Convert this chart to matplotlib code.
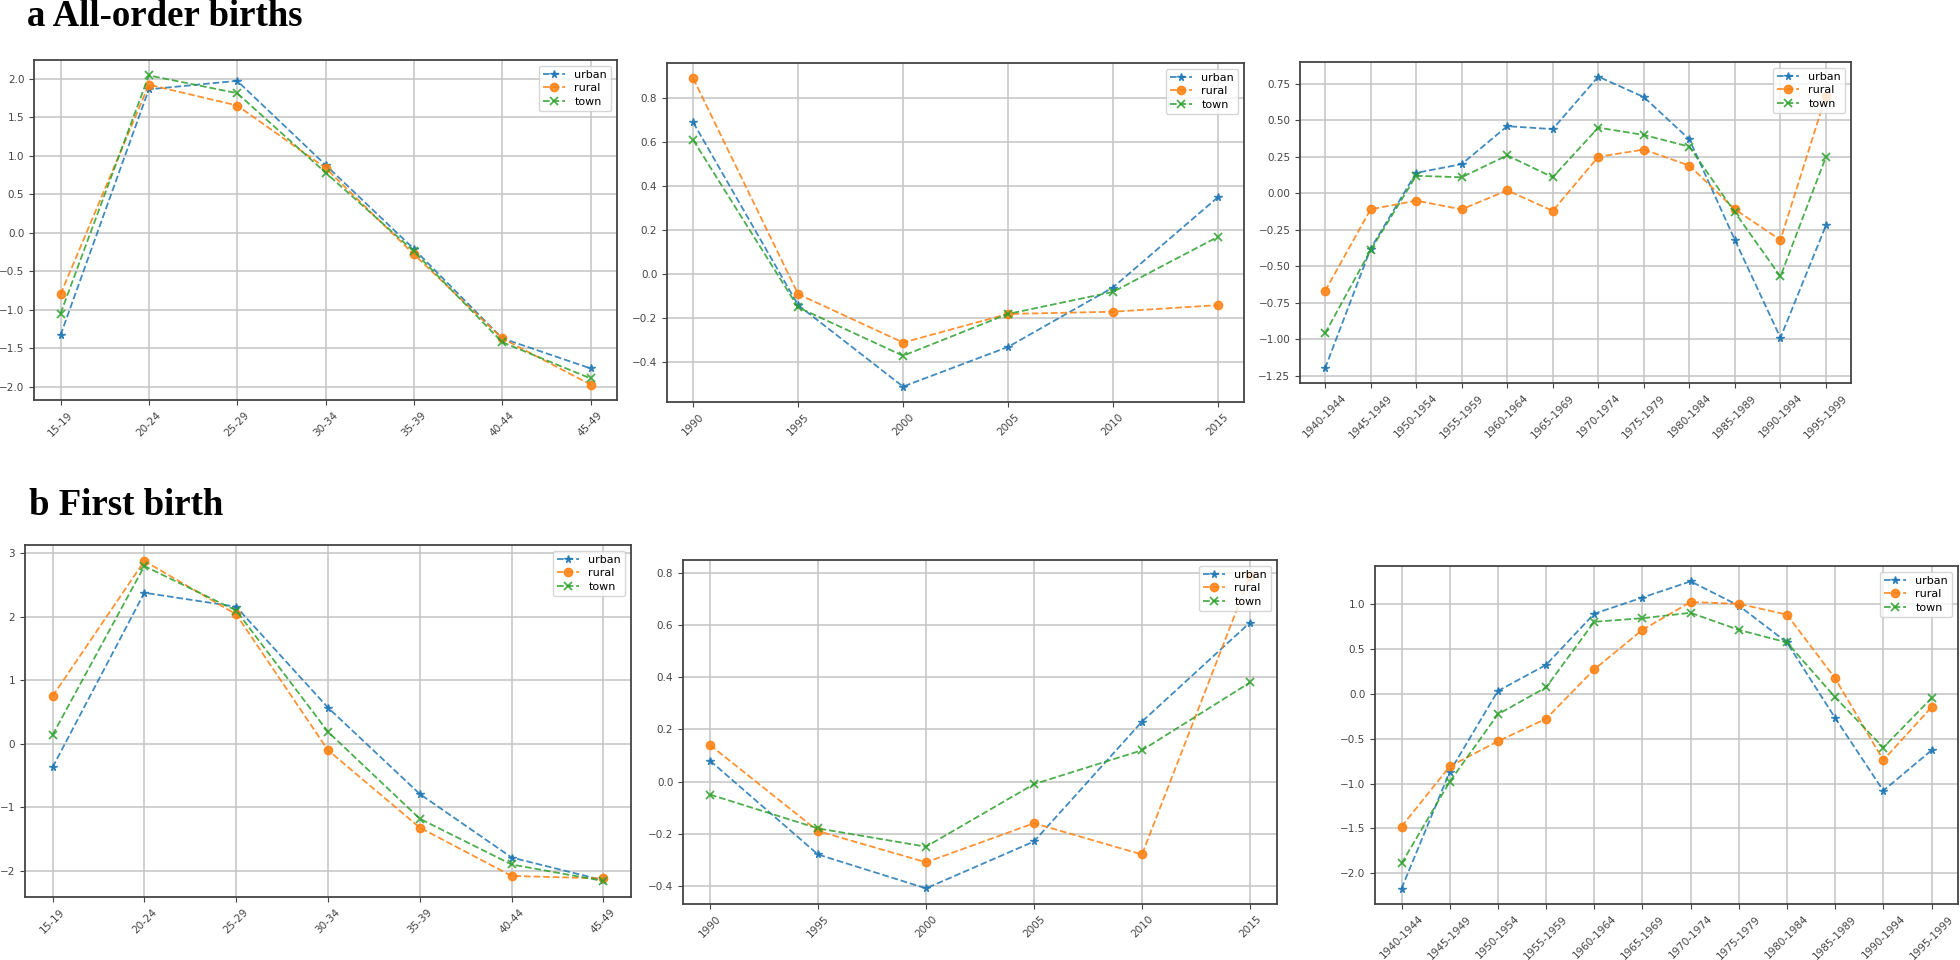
import matplotlib
matplotlib.use("Agg")
import matplotlib.pyplot as plt
from matplotlib.ticker import MultipleLocator

# ---------------- data ----------------
age_groups = ["15-19", "20-24", "25-29", "30-34", "35-39", "40-44", "45-49"]
years = ["1990", "1995", "2000", "2005", "2010", "2015"]
cohorts = ["1940-1944", "1945-1949", "1950-1954", "1955-1959", "1960-1964",
           "1965-1969", "1970-1974", "1975-1979", "1980-1984", "1985-1989",
           "1990-1994", "1995-1999"]

# a  All-order births
a_age_urban = [-1.33, 1.86, 1.97, 0.88, -0.21, -1.37, -1.76]
a_age_rural = [-0.80, 1.92, 1.65, 0.84, -0.28, -1.37, -1.97]
a_age_town = [-1.05, 2.04, 1.81, 0.78, -0.24, -1.42, -1.89]

a_year_urban = [0.69, -0.14, -0.51, -0.33, -0.06, 0.35]
a_year_rural = [0.89, -0.09, -0.31, -0.18, -0.17, -0.14]
a_year_town = [0.61, -0.15, -0.37, -0.18, -0.08, 0.17]

a_coh_urban = [-1.20, -0.38, 0.14, 0.20, 0.46, 0.44, 0.80, 0.66, 0.37, -0.32, -0.99, -0.22]
a_coh_rural = [-0.67, -0.11, -0.05, -0.11, 0.02, -0.12, 0.25, 0.30, 0.19, -0.11, -0.32, 0.67]
a_coh_town = [-0.96, -0.39, 0.12, 0.11, 0.26, 0.11, 0.45, 0.40, 0.32, -0.13, -0.57, 0.25]

# b  First birth
b_age_urban = [-0.37, 2.38, 2.16, 0.57, -0.79, -1.79, -2.15]
b_age_rural = [0.75, 2.88, 2.04, -0.10, -1.32, -2.08, -2.12]
b_age_town = [0.14, 2.80, 2.10, 0.19, -1.18, -1.90, -2.16]

b_year_urban = [0.08, -0.28, -0.41, -0.23, 0.23, 0.61]
b_year_rural = [0.14, -0.19, -0.31, -0.16, -0.28, 0.79]
b_year_town = [-0.05, -0.18, -0.25, -0.01, 0.12, 0.38]

b_coh_urban = [-2.17, -0.87, 0.03, 0.32, 0.89, 1.07, 1.25, 0.98, 0.57, -0.27, -1.08, -0.63]
b_coh_rural = [-1.48, -0.81, -0.53, -0.28, 0.27, 0.71, 1.02, 1.00, 0.88, 0.17, -0.74, -0.15]
b_coh_town = [-1.89, -0.98, -0.23, 0.07, 0.80, 0.84, 0.90, 0.71, 0.57, -0.04, -0.60, -0.05]

series_labels = ["urban", "rural", "town"]

# ---------------- figure ----------------
W, H = 1960, 960
fig = plt.figure(figsize=(W / 100, H / 100), dpi=100)


def box(left, top, right, bottom):
    return [left / W, 1 - bottom / H, (right - left) / W, (bottom - top) / H]


styles = [
    dict(color="tab:blue", marker="*", markersize=5.5),
    dict(color="tab:orange", marker="o", markersize=6),
    dict(color="tab:green", marker="x", markersize=5.5, markeredgewidth=1.3),
]


def panel(rect, cats, vals, step):
    ax = fig.add_axes(rect)
    x = list(range(len(cats)))
    for v, lab, st in zip(vals, series_labels, styles):
        ax.plot(x, v, linestyle="--", linewidth=1.3, alpha=0.85, label=lab, **st)
    ax.set_xticks(x)
    ax.set_xticklabels(cats, rotation=45, fontsize=7.5, color="#333333")
    ax.yaxis.set_major_locator(MultipleLocator(step))
    ax.tick_params(axis="y", labelsize=7.5, labelcolor="#333333")
    ax.tick_params(colors="#444444", length=3.5)
    ax.grid(True, color="#c4c4c4", linewidth=1.1)
    for s in ax.spines.values():
        s.set_color("#444444")
        s.set_linewidth(1.3)
    ax.legend(loc="upper right", fontsize=8, handlelength=2.0,
              labelspacing=0.3, borderpad=0.4)
    return ax


panel(box(34, 60, 617, 400), age_groups, [a_age_urban, a_age_rural, a_age_town], 0.5)
panel(box(667, 63, 1244, 402), years, [a_year_urban, a_year_rural, a_year_town], 0.2)
panel(box(1300, 62, 1851, 383), cohorts, [a_coh_urban, a_coh_rural, a_coh_town], 0.25)

panel(box(25, 545, 631, 897), age_groups, [b_age_urban, b_age_rural, b_age_town], 1.0)
panel(box(683, 560, 1277, 904), years, [b_year_urban, b_year_rural, b_year_town], 0.2)
panel(box(1375, 566, 1958, 904), cohorts, [b_coh_urban, b_coh_rural, b_coh_town], 0.5)

title_font = dict(family=["Liberation Serif", "DejaVu Serif"], weight="bold", size=26.5)
fig.text(27 / W, 1 - 26 / H, "a All-order births", va="baseline", ha="left", **title_font)
fig.text(29 / W, 1 - 515 / H, "b First birth", va="baseline", ha="left", **title_font)

fig.savefig("out.png", dpi=100)
